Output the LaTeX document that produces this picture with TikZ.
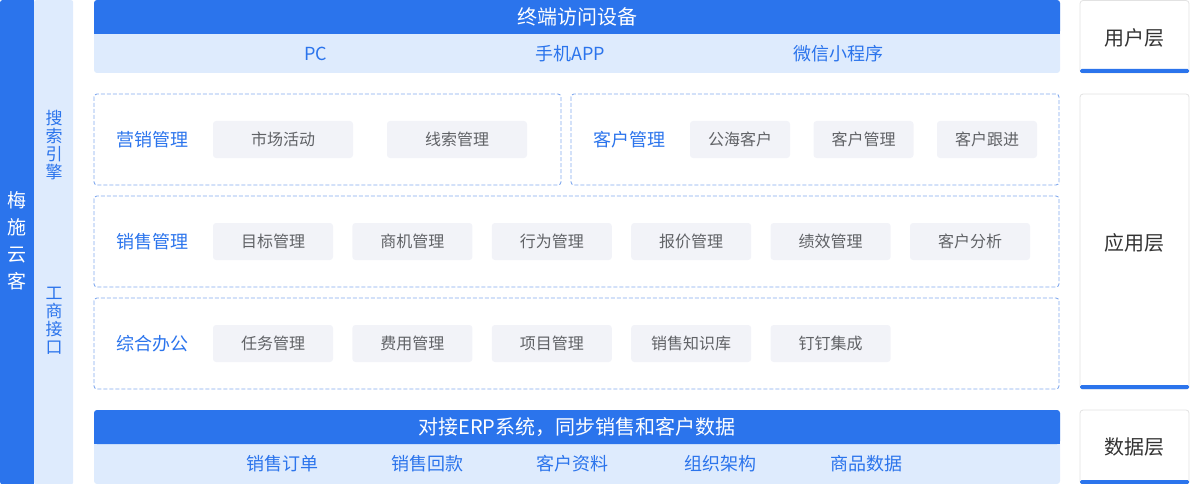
\documentclass[tikz,border=0pt]{standalone}
\usepackage{fontspec}
\setmainfont{Noto Sans CJK SC}
\usetikzlibrary{positioning}
\definecolor{mainblue}{HTML}{2B74EC}
\definecolor{paleblue}{HTML}{DEEBFD}
\definecolor{itemgray}{HTML}{F2F3F8}
\definecolor{itemtext}{HTML}{606266}
\definecolor{dashblue}{HTML}{82AAEE}
\definecolor{layerline}{HTML}{E2E2E2}
\definecolor{layertext}{HTML}{333333}

\begin{document}
\begin{tikzpicture}[
    x=1pt, y=-1pt,
    sidebar/.style={
        rectangle,
        fill=mainblue,
        rounded corners=2pt,
        inner sep=0pt,
        anchor=north west
    },
    vtext/.style={
        align=center,
        inner sep=0pt,
        font=\fontsize{17}{18}\selectfont
    },
    title/.style={
        text=white,
        inner sep=0pt,
        font=\fontsize{20}{22}\selectfont
    },
    entry/.style={
        text=mainblue,
        inner sep=0pt,
        font=\fontsize{18}{20}\selectfont
    },
    module/.style={
        draw=dashblue,
        dash pattern=on 4pt off 2pt,
        line width=0.9pt,
        rounded corners=3pt
    },
    label/.style={
        text=mainblue,
        inner sep=0pt,
        font=\fontsize{18}{20}\selectfont
    },
    item/.style={
        rectangle,
        fill=itemgray,
        rounded corners=3pt,
        minimum width=120pt,
        minimum height=37pt,
        inner sep=0pt,
        text=itemtext,
        font=\fontsize{16}{18}\selectfont
    },
    layer/.style={
        draw=layerline,
        fill=white,
        line width=0.8pt,
        rounded corners=3pt
    },
    layername/.style={
        text=layertext,
        inner sep=0pt,
        font=\fontsize{20}{22}\selectfont
    }
]

    \useasboundingbox (0,0) rectangle (1190,484);

    % --- LEFT BARS ---
    \node[sidebar, minimum width=34pt, minimum height=484pt] (brand) at (0,0) {};
    \node[sidebar, fill=paleblue, minimum width=39pt, minimum height=484pt] (api) at (34,0) {};
    \fill[mainblue] (30,0) rectangle (34,484);
    \node[vtext, text=white, font=\fontsize{19}{27}\selectfont] (brandname) at (17,241) {梅\\施\\云\\客};
    \node[vtext, text=mainblue] (search) at (54,145) {搜\\索\\引\\擎};
    \node[vtext, text=mainblue] (biz) at (54,321) {工\\商\\接\\口};

    % --- USER LAYER ---
    \fill[paleblue, rounded corners=3pt] (94,0) rectangle (1060,73);
    \fill[mainblue, rounded corners=3pt] (94,0) rectangle (1060,34);
    \fill[mainblue] (94,20) rectangle (1060,34);
    \node[title] (device) at (577,17) {终端访问设备};
    \node[entry] (pc) at (316,53.5) {PC};
    \node[entry] (app) at (570,53.5) {手机APP};
    \node[entry] (mini) at (838,53.5) {微信小程序};

    % --- APPLICATION LAYER ---
    \draw[module] (94,94) rectangle (561,185);
    \draw[module] (571,94) rectangle (1059,185);
    \draw[module] (94,196) rectangle (1059,287);
    \draw[module] (94,298) rectangle (1059,389);

    \node[label] (market) at (152,140) {营销管理};
    \node[label] (client) at (629,140) {客户管理};
    \node[label] (sales) at (152,242) {销售管理};
    \node[label] (office) at (152,344) {综合办公};

    \foreach \name [count=\i] in {市场活动,线索管理}
        \node[item, minimum width=140pt] (market\i) at ({283+174*(\i-1)},139.5) {\name};
    \foreach \name [count=\i] in {公海客户,客户管理,客户跟进}
        \node[item, minimum width=100pt] (client\i) at ({740+123.5*(\i-1)},139.5) {\name};
    \foreach \name [count=\i] in {目标管理,商机管理,行为管理,报价管理,绩效管理,客户分析}
        \node[item] (sales\i) at ({273+139.4*(\i-1)},241.5) {\name};
    \foreach \name [count=\i] in {任务管理,费用管理,项目管理,销售知识库,钉钉集成}
        \node[item] (office\i) at ({273+139.4*(\i-1)},343.5) {\name};

    % --- DATA LAYER ---
    \fill[paleblue, rounded corners=3pt] (94,410) rectangle (1060,484);
    \fill[mainblue, rounded corners=3pt] (94,410) rectangle (1060,444);
    \fill[mainblue] (94,430) rectangle (1060,444);
    \node[title] (erp) at (577,427) {对接ERP系统，同步销售和客户数据};
    \foreach \name/\x [count=\i] in {销售订单/282,销售回款/427,客户资料/572,组织架构/720,商品数据/866}
        \node[entry] (data\i) at (\x,463.5) {\name};

    % --- RIGHT LAYER TAGS ---
    \draw[layer] (1080,0.5) rectangle (1189,73);
    \draw[layer] (1080,94) rectangle (1189,389);
    \draw[layer] (1080,410) rectangle (1189,484);
    \fill[mainblue, rounded corners=1.5pt] (1080,69) rectangle (1189,73);
    \fill[mainblue, rounded corners=1.5pt] (1080,385) rectangle (1189,389);
    \fill[mainblue, rounded corners=1.5pt] (1080,480) rectangle (1189,484);
    \node[layername] (userlayer) at (1134.5,38) {用户层};
    \node[layername] (applayer) at (1134.5,243) {应用层};
    \node[layername] (datalayer) at (1134.5,447) {数据层};

\end{tikzpicture}
\end{document}
